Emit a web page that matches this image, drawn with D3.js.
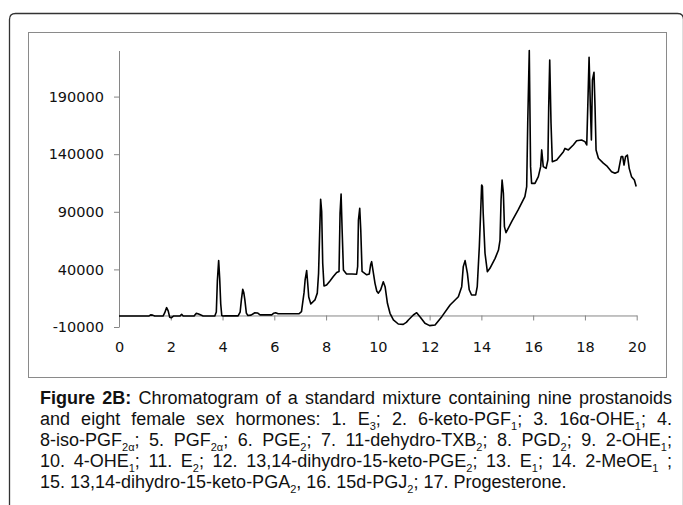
<!DOCTYPE html>
<html>
<head>
<meta charset="utf-8">
<script src="https://cdn.jsdelivr.net/npm/d3@7"></script>
<style>
  html, body { margin: 0; padding: 0; background: #fff; }
  svg { display: block; }
</style>
</head>
<body>
<svg id="chart" width="683" height="505"></svg>
<script>
// ---- data ----
const retentionTime = [
  0, 1.15, 1.22, 1.30, 1.38, 1.70, 1.76, 1.84, 1.90, 1.96, 2.02, 2.10, 2.35, 2.42, 2.48,
  2.90, 2.98, 3.05, 3.12, 3.25, 3.70, 3.76, 3.80, 3.85, 3.89, 3.93, 3.97, 4.02, 4.10,
  4.60, 4.68, 4.73, 4.78, 4.82, 4.86, 4.92, 4.98, 5.10, 5.25, 5.35, 5.45, 5.90, 5.98,
  6.05, 6.15, 6.95, 7.05, 7.15, 7.19, 7.25, 7.29, 7.33, 7.41, 7.57, 7.66, 7.71, 7.75,
  7.79, 7.83, 7.87, 7.92, 8.02, 8.15, 8.28, 8.41, 8.50, 8.54, 8.58, 8.62, 8.67, 8.79,
  9.00, 9.18, 9.22, 9.25, 9.30, 9.34, 9.39, 9.57, 9.67, 9.72, 9.76, 9.80, 9.89, 9.96,
  10.02, 10.11, 10.21, 10.28, 10.37, 10.47, 10.60, 10.79, 10.98, 11.10, 11.18, 11.37,
  11.50, 11.65, 11.82, 12.00, 12.21, 12.47, 12.79, 13.11, 13.24, 13.30, 13.37, 13.46,
  13.53, 13.62, 13.78, 13.84, 13.92, 13.97, 14.01, 14.04, 14.07, 14.14, 14.23, 14.33,
  14.53, 14.66, 14.72, 14.76, 14.80, 14.85, 14.89, 14.95, 15.17, 15.42, 15.68, 15.75,
  15.79, 15.85, 15.90, 15.94, 16.07, 16.20, 16.29, 16.33, 16.39, 16.50, 16.57, 16.60,
  16.64, 16.69, 16.74, 16.91, 17.17, 17.23, 17.36, 17.55, 17.68, 17.87, 18.00, 18.07,
  18.11, 18.16, 18.21, 18.25, 18.29, 18.35, 18.39, 18.43, 18.52, 18.71, 18.84, 19.03,
  19.16, 19.29, 19.40, 19.46, 19.51, 19.57, 19.64, 19.71, 19.80, 19.91, 19.98
];
const intensity = [
  -500, -500, 500, 300, -500, -500, 2000, 6800, 4000, -1500, -2000, -500, -500, 1000, -500,
  -500, 1800, 1500, 800, -500, -500, 3000, 30000, 47600, 32000, 10000, 0, -500, -300,
  -300, 3000, 14000, 22700, 20000, 14000, 2000, 0, 300, 2400, 2200, 500, 500, 2000,
  2400, 1500, 1500, 3300, 20000, 30800, 38900, 28000, 16000, 10000, 13500, 19400, 36600, 70000,
  100800, 90100, 45300, 25600, 26500, 30000, 33800, 37300, 38200, 88700, 105500, 74200, 39500, 36100,
  36000, 35800, 42500, 82900, 93000, 74200, 38200, 35300, 36100, 44000, 46700, 40900, 27900, 21000,
  19400, 22300, 29300, 25000, 10600, 1900, -3900, -7400, -7700, -6000, -3900, 400,
  2400, -1700, -6800, -8800, -8300, -1000, 9100, 16300, 25000, 42400, 47600, 36600,
  22300, 17800, 17800, 25000, 59700, 88700, 113300, 112000, 88700, 54000, 38000, 40900,
  49600, 56800, 65500, 100300, 117600, 106000, 77100, 71900, 81400, 91600, 103100, 111800,
  166800, 230000, 129200, 114700, 114700, 120500, 129200, 143700, 129200, 127700, 135000, 180000,
  221800, 166800, 133500, 135000, 142200, 145000, 143700, 148000, 151700, 152300, 150900, 148000,
  181300, 224100, 181300, 152300, 204400, 211100, 181300, 143700, 136500, 132200, 129900, 124800,
  123400, 124800, 137900, 137900, 130600, 137900, 139300, 127700, 120500, 117600, 112000
];
const xTickValues = [0, 2, 4, 6, 8, 10, 12, 14, 16, 18, 20];
const yTickValues = [-10000, 40000, 90000, 140000, 190000];
const xDomain = [0, 20];
const yDomain = [-10000, 230000];

// caption lines: "**...**" = bold, "_{...}" = subscript
const captionLines = [
  "**Figure 2B:** Chromatogram of a standard mixture containing nine prostanoids",
  "and eight female sex hormones: 1. E_{3}; 2. 6-keto-PGF_{1}; 3. 16α-OHE_{1}; 4.",
  "8-iso-PGF_{2α}; 5. PGF_{2α}; 6. PGE_{2}; 7. 11-dehydro-TXB_{2}; 8. PGD_{2}; 9. 2-OHE_{1};",
  "10. 4-OHE_{1}; 11. E_{2}; 12. 13,14-dihydro-15-keto-PGE_{2}; 13. E_{1}; 14. 2-MeOE_{1} ;",
  "15. 13,14-dihydro-15-keto-PGA_{2}, 16. 15d-PGJ_{2}; 17. Progesterone."
];

// ---- drawing ----
const svg = d3.select("#chart");
const axisColor = "#868686";

// outer rounded frame (open at bottom, right side at page edge)
const r = 6, L = 9.5, T = 13.5, R = 683.5;
svg.append("path")
  .attr("d", `M${L},505 L${L},${T + r} Q${L},${T} ${L + r},${T} L${R - r},${T} Q${R},${T} ${R},${T + r} L${R},505`)
  .attr("fill", "none").attr("stroke", "#333").attr("stroke-width", 1.3);

// chart area frame
svg.append("rect")
  .attr("x", 28.5).attr("y", 32.5).attr("width", 638).attr("height", 345)
  .attr("fill", "#fff").attr("stroke", "#8a8a8a").attr("stroke-width", 1);

const x = d3.scaleLinear().domain(xDomain).range([119, 636.7]);
const y = d3.scaleLinear().domain(yDomain).range([327, 50.5]);

const fontFam = "'DejaVu Sans', sans-serif";
const plainFmt = d => String(d);

// y axis
const gy = svg.append("g").attr("transform", `translate(${x(0)},0)`)
  .call(d3.axisLeft(y).tickValues(yTickValues).tickFormat(plainFmt)
    .tickSize(5).tickSizeOuter(0).tickPadding(10));
gy.select(".domain").attr("stroke", axisColor);
gy.selectAll(".tick line").attr("stroke", axisColor);
gy.selectAll(".tick text").attr("fill", "#111").style("font-family", fontFam).style("font-size", "14.5px");

// x axis (crosses at y = 0, labels below the plot)
const gx = svg.append("g").attr("transform", `translate(0,${y(0)})`)
  .call(d3.axisBottom(x).tickValues(xTickValues).tickFormat(plainFmt)
    .tickSize(5).tickSizeOuter(0).tickPadding(21));
gx.select(".domain").attr("stroke", axisColor);
gx.selectAll(".tick line").attr("stroke", axisColor);
gx.selectAll(".tick text").attr("fill", "#111").style("font-family", fontFam).style("font-size", "14.5px");

// chromatogram trace
const pts = retentionTime.map((t, i) => [t, intensity[i]]);
svg.append("path")
  .datum(pts)
  .attr("d", d3.line().x(d => x(d[0])).y(d => y(d[1])))
  .attr("fill", "none").attr("stroke", "#000").attr("stroke-width", 1.6)
  .attr("stroke-linejoin", "round");

// caption
const capX = 40, capRight = 672, capY0 = 404, capStep = 21.1;
function addRich(textSel, str) {
  const re = /(\*\*[^*]+\*\*|_\{[^}]+\})/g;
  let last = 0, m;
  const parts = [];
  while ((m = re.exec(str)) !== null) {
    if (m.index > last) parts.push({ t: str.slice(last, m.index), k: "n" });
    if (m[0].startsWith("**")) parts.push({ t: m[0].slice(2, -2), k: "b" });
    else parts.push({ t: m[0].slice(2, -1), k: "s" });
    last = re.lastIndex;
  }
  if (last < str.length) parts.push({ t: str.slice(last), k: "n" });
  let shifted = false;
  parts.forEach(p => {
    const ts = textSel.append("tspan").text(p.t);
    if (p.k === "b") ts.attr("font-weight", "bold");
    if (p.k === "s") { ts.attr("font-size", "11px").attr("dy", 4.5); shifted = true; }
    else if (shifted) { ts.attr("dy", -4.5); shifted = false; }
  });
}
captionLines.forEach((line, i) => {
  const t = svg.append("text")
    .attr("x", capX).attr("y", capY0 + i * capStep)
    .attr("fill", "#111")
    .style("font-family", "'Liberation Sans', Arial, sans-serif")
    .style("font-size", "18px")
    .style("white-space", "pre");
  addRich(t, line);
  if (i < captionLines.length - 1) {
    const natural = t.node().getComputedTextLength();
    const target = capRight - capX;
    const plain = line.replace(/\*\*/g, "").replace(/_\{([^}]+)\}/g, "$1");
    const nSpaces = (plain.match(/ /g) || []).length;
    const extra = target - natural;
    if (extra >= 0 && nSpaces > 0) t.style("word-spacing", (extra / nSpaces) + "px");
    else t.style("letter-spacing", (extra / plain.length) + "px");
  }
});
</script>
</body>
</html>
